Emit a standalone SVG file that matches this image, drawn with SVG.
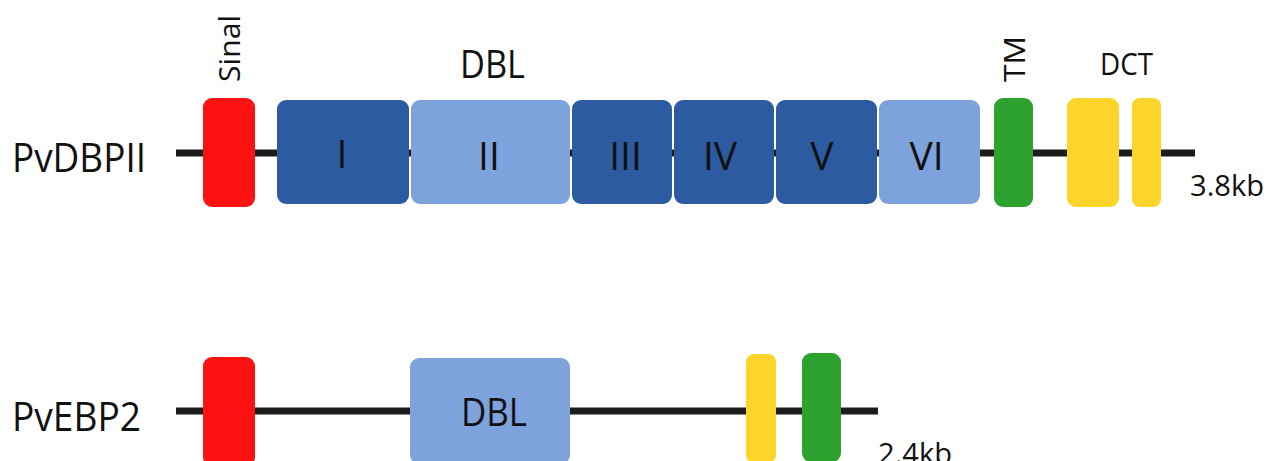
<svg xmlns="http://www.w3.org/2000/svg" width="1269" height="461" viewBox="0 0 1269 461">
  <style>
    text { font-family: "Open Sans", "Noto Sans", sans-serif; fill: #111; }
    .bb { stroke: #1c1c1c; stroke-width: 7; }
    .red { fill: #fd1212; }
    .dark { fill: #2d5ba1; }
    .light { fill: #7da2dc; }
    .green { fill: #2da22f; }
    .yellow { fill: #fdd429; }
    .name { font-size: 41px; }
    .num { font-size: 39px; text-anchor: middle; }
    .lbl { font-size: 30px; }
  </style>

  <!-- backbones -->
  <g id="connectors">
    <line class="bb" x1="176" y1="153" x2="1195" y2="153"/>
    <line class="bb" x1="176" y1="411" x2="878" y2="411"/>
  </g>

  <!-- PvDBPII -->
  <g id="pvdbpii">
    <text class="name" x="12" y="172" textLength="134" lengthAdjust="spacingAndGlyphs">PvDBPII</text>
    <text class="lbl" x="1190" y="196" textLength="74" lengthAdjust="spacingAndGlyphs">3.8kb</text>
  </g>
  <g id="dbp-signal">
    <rect class="red" x="203" y="98" width="52" height="109" rx="9"/>
    <text class="lbl" font-size="31" transform="translate(240,82) rotate(-90)" textLength="67" lengthAdjust="spacingAndGlyphs">Sinal</text>
  </g>
  <g id="dbp-dbl">
    <text x="460" y="78" font-size="39" textLength="65" lengthAdjust="spacingAndGlyphs">DBL</text>
    <rect class="dark" x="277" y="100" width="132" height="104" rx="9"/>
    <rect class="light" x="411" y="100" width="159" height="104" rx="9"/>
    <rect class="dark" x="572" y="100" width="100" height="104" rx="9"/>
    <rect class="dark" x="674" y="100" width="100" height="104" rx="9"/>
    <rect class="dark" x="776" y="100" width="101" height="104" rx="9"/>
    <rect class="light" x="879" y="100" width="101" height="104" rx="9"/>
    <text class="num" x="342" y="168">I</text>
    <text class="num" x="489" y="170">II</text>
    <text class="num" x="625.5" y="170">III</text>
    <text class="num" x="720" y="170">IV</text>
    <text class="num" x="822" y="170">V</text>
    <text class="num" x="926.5" y="170">VI</text>
  </g>
  <g id="dbp-tm">
    <rect class="green" x="994" y="98" width="39" height="109" rx="9"/>
    <text class="lbl" font-size="32" transform="translate(1025,82) rotate(-90)" textLength="46" lengthAdjust="spacingAndGlyphs">TM</text>
  </g>
  <g id="dbp-dct">
    <text x="1100" y="75" font-size="31" textLength="53" lengthAdjust="spacingAndGlyphs">DCT</text>
    <rect class="yellow" x="1067" y="98" width="52" height="109" rx="9"/>
    <rect class="yellow" x="1132" y="98" width="29" height="109" rx="8"/>
  </g>

  <!-- PvEBP2 -->
  <g id="pvebp2">
    <text class="name" x="12" y="431" textLength="129" lengthAdjust="spacingAndGlyphs">PvEBP2</text>
    <text class="lbl" x="878" y="464" textLength="74" lengthAdjust="spacingAndGlyphs">2.4kb</text>
  </g>
  <g id="ebp-signal">
    <rect class="red" x="203" y="357" width="52" height="109" rx="9"/>
  </g>
  <g id="ebp-dbl">
    <rect class="light" x="410" y="358" width="160" height="106" rx="9"/>
    <text x="461" y="426" font-size="39" textLength="66" lengthAdjust="spacingAndGlyphs">DBL</text>
  </g>
  <g id="ebp-dct">
    <rect class="yellow" x="746" y="354" width="30" height="109" rx="8"/>
  </g>
  <g id="ebp-tm">
    <rect class="green" x="802" y="353" width="39" height="109" rx="9"/>
  </g>
</svg>
